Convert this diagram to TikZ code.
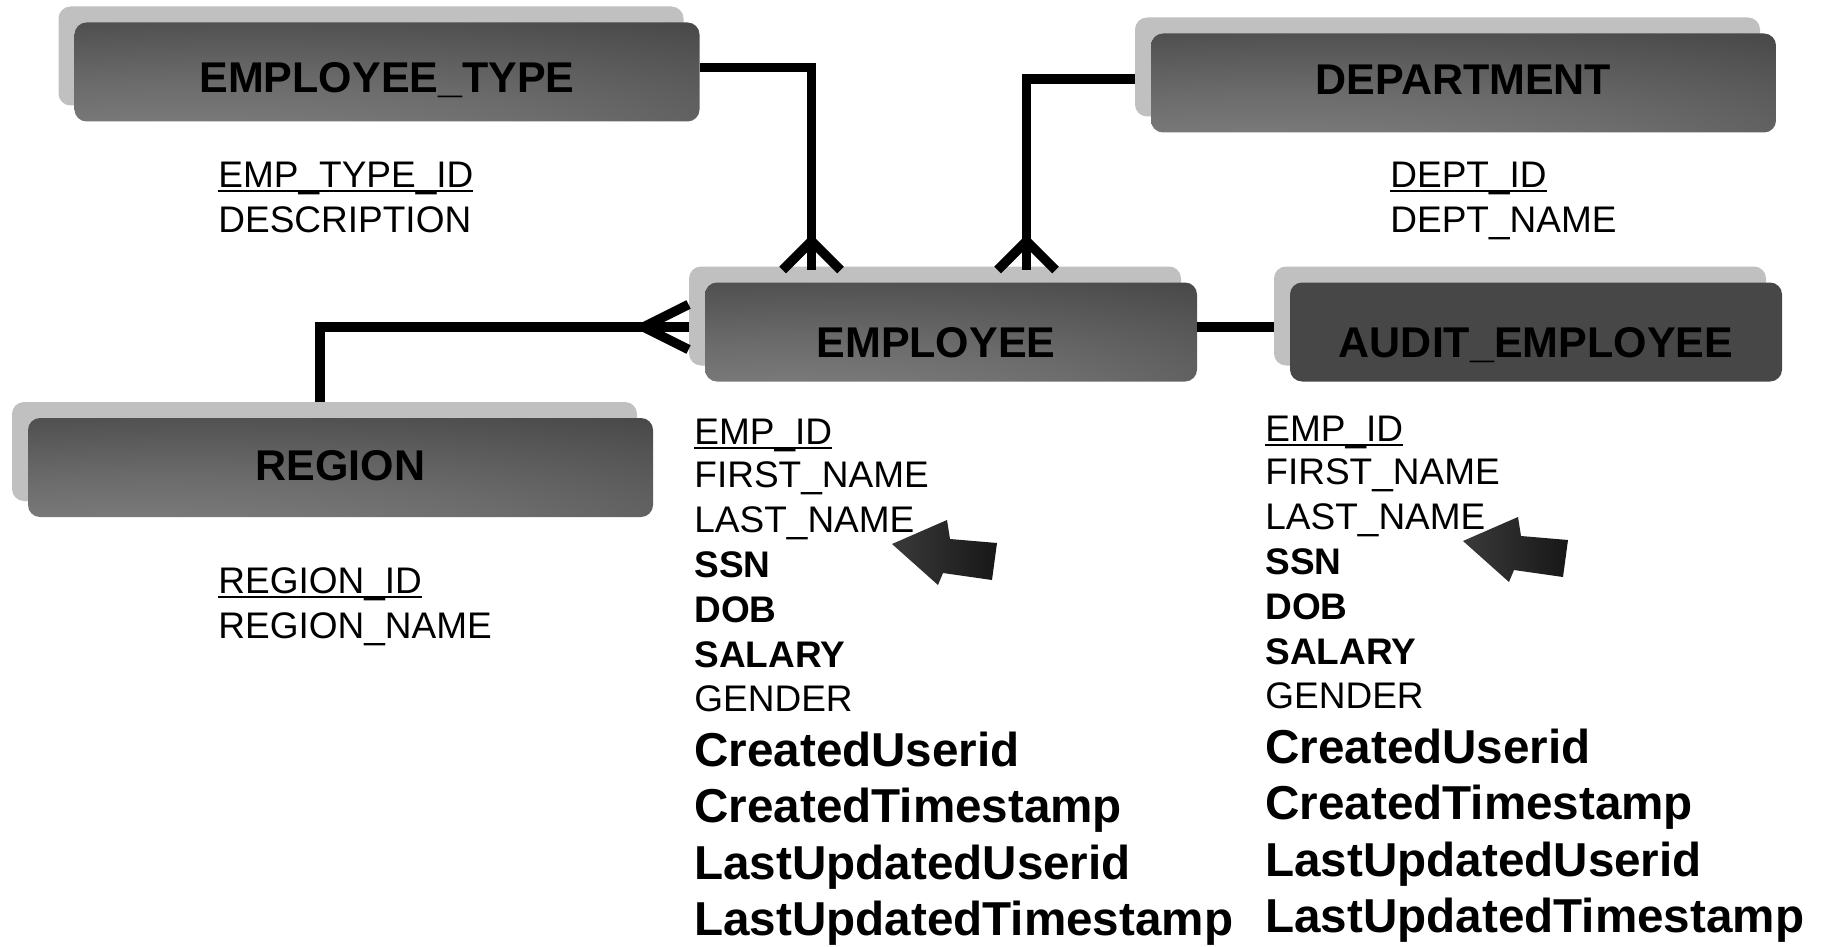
\documentclass[tikz,border=0pt]{standalone}
\usepackage{fontspec}
\setmainfont{Liberation Sans}
\usetikzlibrary{shadows}

\definecolor{boxlight}{HTML}{8A8A8A}
\definecolor{boxdark}{HTML}{3E3E3E}
\definecolor{boxshadow}{HTML}{C0C0C0}
\definecolor{auditgray}{HTML}{474747}
\definecolor{pointerlight}{HTML}{3A3A3A}
\definecolor{pointerdark}{HTML}{171717}

\pgfdeclareradialshading{entityshade}{\pgfpoint{-20bp}{-50bp}}{color(0bp)=(boxlight); color(30bp)=(boxlight!60!boxdark); color(65bp)=(boxdark); color(100bp)=(boxdark)}

% underlined key column
\newcommand{\pkey}[1]{\setbox0\hbox{#1}\rlap{\rule[-2.3pt]{\wd0}{1pt}}\box0}

\begin{document}
\begin{tikzpicture}[x=0.5pt,y=-0.5pt,
    entity/.style={rounded corners=6pt, minimum height=49.5pt, inner sep=0pt, text height=12pt, text depth=0pt,
        font=\fontsize{21.5}{24}\selectfont\bfseries,
        general shadow={fill=boxshadow, shadow xshift=-8pt, shadow yshift=8pt}},
    glossy/.style={shade, shading=entityshade},
    wide/.style={entity, glossy, minimum width=312.5pt},
    narrow/.style={entity, minimum width=246pt},
    rel/.style={line width=4.75pt},
    attr/.style={anchor=base west, inner sep=0pt, font=\fontsize{18.5}{22}\selectfont},
    attrb/.style={attr, font=\fontsize{18.5}{22}\selectfont\bfseries},
    stamp/.style={attr, font=\fontsize{23.8}{28}\selectfont\bfseries}]

    \path[use as bounding box, fill=white] (0,0) rectangle (1826,947);

    % entities
    \node[wide, text height=21pt] (etype) at (387,72) {EMPLOYEE\_TYPE};
    \node[wide] (dept) at (1463.5,83) {DEPARTMENT};
    \node[narrow, glossy, text height=25pt] (emp) at (951,332) {EMPLOYEE\kern15pt};
    \node[narrow, fill=auditgray, text height=25pt] (audit) at (1536,332) {AUDIT\_EMPLOYEE};
    \node[wide, text height=12.5pt] (region) at (340.5,467.5) {REGION};

    % attributes
    \node[attr] (etype-id) at (218,187) {\pkey{EMP\_TYPE\_ID}};
    \node[attr] (etype-desc) at (218,232) {DESCRIPTION};
    \node[attr] (dept-id) at (1390,187) {\pkey{DEPT\_ID}};
    \node[attr] (dept-name) at (1390,232) {DEPT\_NAME};
    \node[attr] (region-id) at (218,593) {\pkey{REGION\_ID}};
    \node[attr] (region-name) at (218,638) {REGION\_NAME};

    \foreach \col/\dx/\dy in {emp/0/0, audit/571/-3} {
        \begin{scope}[shift={(\dx,\dy)}]
            \node[attr] (\col-id) at (694,444) {\pkey{EMP\_ID}};
            \node[attr] (\col-first) at (694,487) {FIRST\_NAME};
            \node[attr] (\col-last) at (694,532) {LAST\_NAME};
            \node[attrb] (\col-ssn) at (694,577) {SSN};
            \node[attrb] (\col-dob) at (694,622) {DOB};
            \node[attrb] (\col-salary) at (694,667) {SALARY};
            \node[attr] (\col-gender) at (694,711) {GENDER};
            \node[stamp] (\col-cuser) at (694,766) {CreatedUserid};
            \node[stamp] (\col-ctime) at (694,822) {CreatedTimestamp};
            \node[stamp] (\col-luser) at (694,879) {LastUpdatedUserid};
            \node[stamp] (\col-ltime) at (694,935) {LastUpdatedTimestamp};
            % pointer
            \shade[left color=pointerlight, right color=pointerdark]
                (892,544) -- (947,520) -- (950,539) -- (997,543) -- (992,580) -- (943,573) -- (938,585) -- cycle;
        \end{scope}
    }

    % relationships
    \coordinate (etfoot) at ([xshift=53.5pt, yshift=6pt]emp.north west);
    \coordinate (dpfoot) at ([xshift=161pt, yshift=6pt]emp.north west);
    \coordinate (rgfoot) at ([xshift=-8pt, yshift=2.5pt]emp.west);

    \draw[rel] ([yshift=2.25pt]etype.east) -| (etfoot);
    \draw[rel] ([xshift=-14.5pt]etfoot) -- ([yshift=14.5pt]etfoot) -- ([xshift=14.5pt]etfoot);

    \draw[rel] ([xshift=-8pt, yshift=2pt]dept.west) -| (dpfoot);
    \draw[rel] ([xshift=-14.5pt]dpfoot) -- ([yshift=14.5pt]dpfoot) -- ([xshift=14.5pt]dpfoot);

    \draw[rel] ([xshift=-10.25pt, yshift=8pt]region.north) |- (rgfoot);
    \draw[rel] ([yshift=11.25pt]rgfoot) -- ([xshift=-22.5pt]rgfoot) -- ([yshift=-11.25pt]rgfoot);

    \draw[rel] ([yshift=2.5pt]emp.east) -- ([xshift=-8pt, yshift=2.5pt]audit.west);

\end{tikzpicture}
\end{document}
